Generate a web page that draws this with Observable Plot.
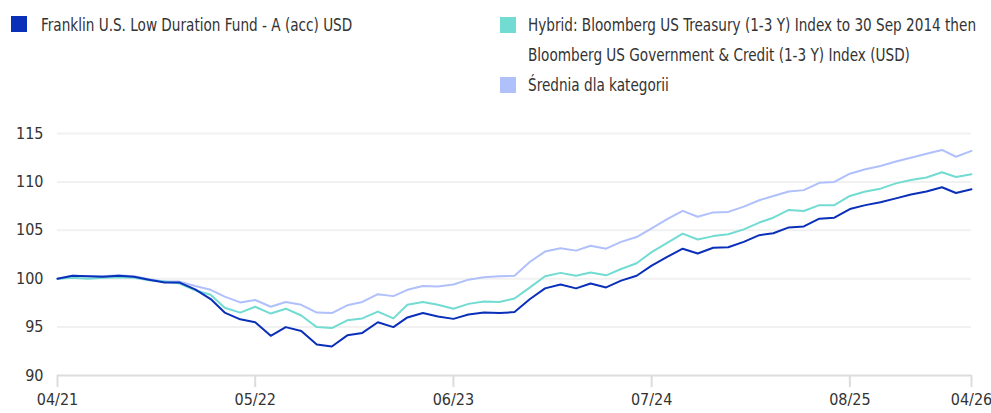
<!DOCTYPE html>
<html>
<head>
<meta charset="utf-8">
<script src="https://cdn.jsdelivr.net/npm/d3@7"></script>
<script src="https://cdn.jsdelivr.net/npm/@observablehq/plot@0.6"></script>
<style>
  html, body { margin: 0; padding: 0; background: #fff; }
  body { width: 991px; height: 413px; overflow: hidden; font-family: "Liberation Sans Narrow", "DejaVu Sans Condensed", Roboto, sans-serif; color: #333; }
  #legend { position: relative; height: 100px; font-size: 17px; line-height: 30px; }
  .item { position: absolute; white-space: nowrap; transform: scaleX(0.89); transform-origin: 0 0; }
  .sw { position: absolute; width: 16px; height: 16px; }
</style>
</head>
<body>
<div id="legend"></div>
<div id="chart"></div>
<script>
const seriesNames = [
  "Franklin U.S. Low Duration Fund - A (acc) USD",
  "Hybrid: Bloomberg US Treasury (1-3 Y) Index to 30 Sep 2014 then\nBloomberg US Government & Credit (1-3 Y) Index (USD)",
  "Średnia dla kategorii"
];
const seriesColors = ["#0a2fb8", "#72dbd2", "#afc0fb"];
const startMonth = "2021-04-01";
const endMonth = "2026-04-01";
const tickMonths = ["2021-04-01", "2022-05-01", "2023-06-01", "2024-07-01", "2025-08-01", "2026-04-01"];
const yTicks = [90, 95, 100, 105, 110, 115];

const fund = [
  100.0, 100.3, 100.25, 100.2, 100.3, 100.2, 99.9, 99.6, 99.6, 98.9,
  97.9, 96.5, 95.8, 95.5, 94.1, 95.0, 94.6, 93.2, 93.0, 94.15,
  94.4, 95.5, 95.0, 96.0, 96.45, 96.1, 95.85, 96.3, 96.5, 96.45,
  96.55, 97.9, 99.0, 99.4, 99.0, 99.5, 99.1, 99.8, 100.3, 101.35,
  102.25, 103.1, 102.6, 103.2, 103.25, 103.8, 104.5, 104.7, 105.3, 105.4,
  106.2, 106.3, 107.2, 107.6, 107.9, 108.3, 108.7, 109.0, 109.45, 108.85, 109.25
];
const benchmark = [
  100.0, 100.1, 100.0, 100.1, 100.15, 100.1, 99.85, 99.7, 99.5, 98.8,
  98.35, 97.0, 96.5, 97.1, 96.4, 96.9, 96.2, 95.0, 94.9, 95.7,
  95.9, 96.6, 95.9, 97.3, 97.6, 97.3, 96.9, 97.4, 97.65, 97.6,
  97.95, 99.1, 100.25, 100.6, 100.3, 100.65, 100.35, 101.0, 101.6, 102.75,
  103.7, 104.65, 104.05, 104.4, 104.6, 105.1, 105.8, 106.3, 107.1, 107.0,
  107.6, 107.6, 108.55, 109.0, 109.3, 109.85, 110.2, 110.45, 111.0, 110.5, 110.8
];
const category = [
  100.0, 100.3, 100.25, 100.25, 100.35, 100.25, 99.95, 99.7, 99.7, 99.25,
  98.85, 98.15, 97.55, 97.8, 97.1, 97.6, 97.3, 96.5, 96.45, 97.25,
  97.6, 98.4, 98.2, 98.85, 99.25, 99.2, 99.4, 99.9, 100.15, 100.25,
  100.3, 101.75, 102.8, 103.15, 102.9, 103.4, 103.1, 103.8, 104.3, 105.2,
  106.15, 107.0, 106.4, 106.85, 106.9, 107.45, 108.1, 108.55, 109.0, 109.15,
  109.9, 110.0, 110.85, 111.3, 111.65, 112.1, 112.5, 112.9, 113.3, 112.6, 113.2
];

// legend
const legend = document.getElementById("legend");
const legendPos = [
  {sx: 11, sy: 16, tx: 41, ty: 10},
  {sx: 500, sy: 17, tx: 528, ty: 10},
  {sx: 500, sy: 77, tx: 528, ty: 70}
];
seriesNames.forEach((name, i) => {
  const p = legendPos[i];
  const sw = document.createElement("div");
  sw.className = "sw";
  sw.style.left = p.sx + "px"; sw.style.top = p.sy + "px";
  sw.style.background = seriesColors[i];
  legend.appendChild(sw);
  const t = document.createElement("div");
  t.className = "item";
  t.style.left = p.tx + "px"; t.style.top = p.ty + "px";
  t.innerHTML = name.split("\n").map(s => s.replace(/&/g, "&amp;")).join("<br>");
  legend.appendChild(t);
});

const dates = d3.utcMonth.range(new Date(startMonth), d3.utcMonth.offset(new Date(endMonth), 1));
const rows = [];
[fund, benchmark, category].forEach((arr, s) => {
  arr.forEach((v, i) => rows.push({date: dates[i], value: v, series: s}));
});

const fmt = d3.utcFormat("%m/%y");
const chart = Plot.plot({
  width: 991,
  height: 313,
  marginTop: 33,
  marginBottom: 38,
  marginLeft: 57,
  marginRight: 20,
  style: {fontFamily: '"Liberation Sans Narrow", "DejaVu Sans Condensed", Roboto, sans-serif', fontSize: "16px", color: "#333", background: "#fff"},
  x: {type: "utc", domain: [new Date(startMonth), new Date(endMonth)]},
  y: {domain: [90, 115]},
  marks: [
    Plot.ruleY(yTicks.filter(d => d > 90), {stroke: "#f1f1f1", strokeWidth: 2}),
    Plot.ruleY([90], {stroke: "#dcdcdc", strokeWidth: 2}),
    Plot.axisY({ticks: yTicks, tickSize: 0, tickPadding: 14, tickFormat: d => String(d), label: null, fontSize: 16}),
    Plot.axisX({ticks: tickMonths.map(d => new Date(d)), tickSize: 12, tickPadding: 6, stroke: "#dcdcdc", strokeWidth: 2, tickFormat: fmt, label: null, fontSize: 16}),
    Plot.lineY(rows.filter(r => r.series === 2), {x: "date", y: "value", stroke: seriesColors[2], strokeWidth: 2}),
    Plot.lineY(rows.filter(r => r.series === 1), {x: "date", y: "value", stroke: seriesColors[1], strokeWidth: 2}),
    Plot.lineY(rows.filter(r => r.series === 0), {x: "date", y: "value", stroke: seriesColors[0], strokeWidth: 2})
  ]
});
document.getElementById("chart").appendChild(chart);
</script>
</body>
</html>
